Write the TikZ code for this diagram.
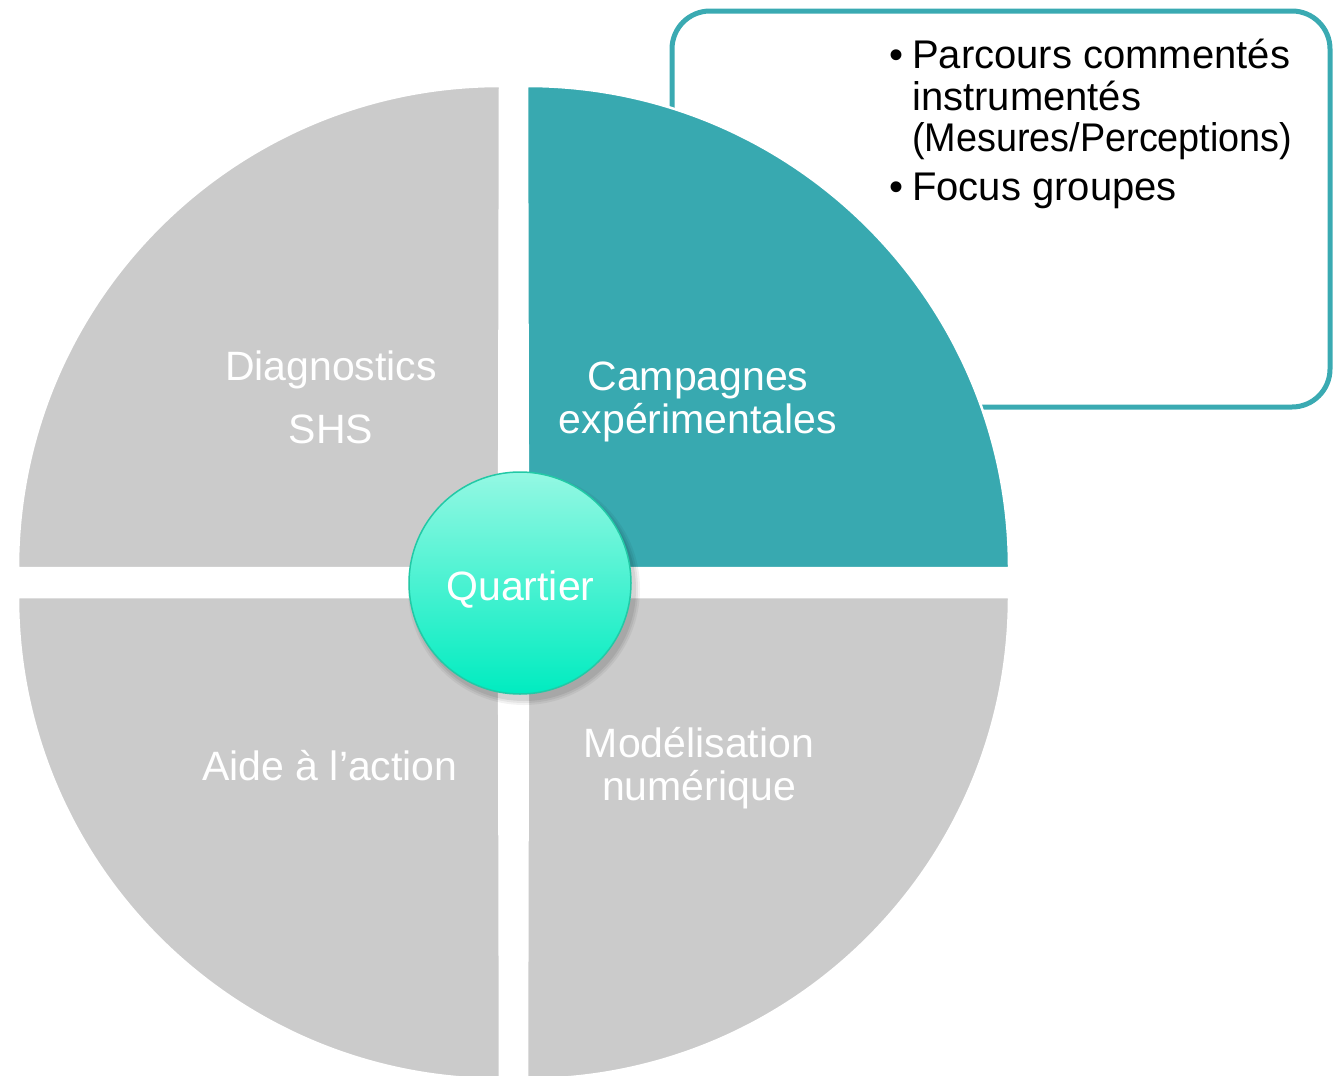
\documentclass[tikz,border=0pt]{standalone}
\usepackage{fontspec}
\setmainfont{Liberation Sans}
\definecolor{quadgray}{HTML}{CBCBCB}
\definecolor{quadteal}{HTML}{38A9B0}
\definecolor{boxteal}{HTML}{3AAAB2}
\definecolor{hubtop}{HTML}{94F8E3}
\definecolor{hubbot}{HTML}{00ECC0}
\definecolor{hubedge}{HTML}{22C9A6}
\tikzset{
  quad/.style={draw=white, line width=2.5pt},
  qlabel/.style={text=white, anchor=base, inner sep=0pt, font=\fontsize{41}{44}\selectfont},
  blabel/.style={text=black, anchor=base west, inner sep=0pt, font=\fontsize{40}{42}\selectfont},
}
\begin{document}
\begin{tikzpicture}[x=1pt, y=-1pt]
\useasboundingbox (0,0) rectangle (1336,1076);
% callout box (behind quadrant)
\draw[boxteal, line width=5pt, rounded corners=38pt, fill=white] (672,11) rectangle (1330,407);
% quadrants
\path[quad, fill=quadgray] (499,568) -- ++(-481,0) arc[start angle=180, end angle=270, radius=482] -- cycle;
\path[quad, fill=quadteal] (528,568) -- ++(481,0) arc[start angle=0, end angle=-90, radius=482] -- cycle;
\path[quad, fill=quadgray] (499,597) -- ++(-481,0) arc[start angle=180, end angle=90, radius=482] -- cycle;
\path[quad, fill=quadgray] (528,597) -- ++(481,0) arc[start angle=0, end angle=90, radius=482] -- cycle;
% quadrant labels
\node[qlabel] (diag) at (331,380) {Diagnostics};
\node[qlabel] (shs) at (331,443) {SHS};
\node[qlabel] (camp) at (698,390) {Campagnes};
\node[qlabel] (exp) at (698,433) {expérimentales};
\node[qlabel] (aide) at (330,780) {Aide à l’action};
\node[qlabel] (mod) at (699,757) {Modélisation};
\node[qlabel] (num) at (699,800) {numérique};
% hub shadow
\foreach \r/\o in {116/0.05,114/0.06,112/0.07} {
  \fill[black, opacity=\o] (524,589) circle[radius=\r];
}
% hub
\shade[top color=hubtop, bottom color=hubbot, draw=hubedge, line width=1.5pt] (520,583) circle[radius=111];
\node[qlabel] (hub) at (520.5,600) {Quartier};
% bullets
\node[blabel] (b1) at (889,68) {•};
\node[blabel] (l1) at (912,68) {Parcours commentés};
\node[blabel] (l2) at (912,110) {instrumentés};
\node[blabel, xscale=0.945] (l3) at (912,151) {(Mesures/Perceptions)};
\node[blabel] (b2) at (889,200) {•};
\node[blabel] (l4) at (912,200) {Focus groupes};
\end{tikzpicture}
\end{document}
